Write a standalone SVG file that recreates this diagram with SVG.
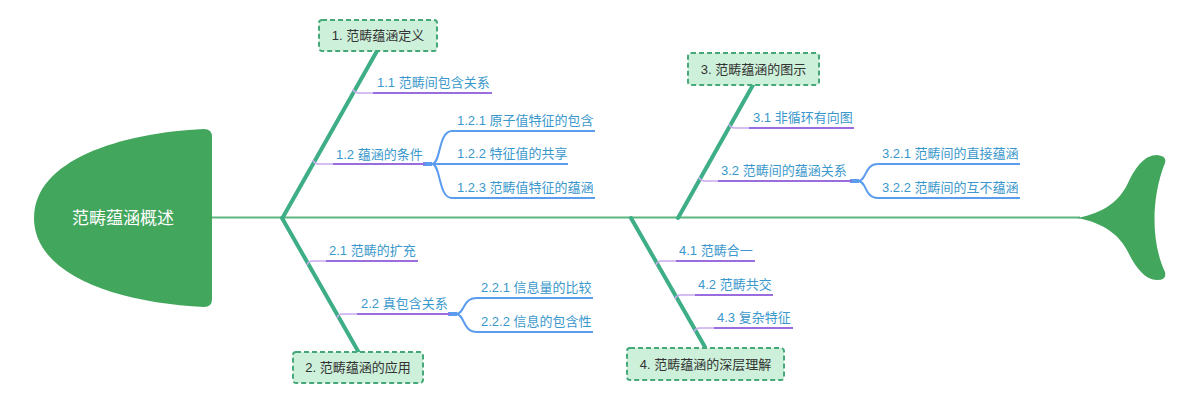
<svg xmlns="http://www.w3.org/2000/svg" width="1200" height="403" viewBox="0 0 1200 403">
<style>
text{font-family:"Liberation Sans","Noto Sans CJK SC",sans-serif}
.spine{stroke:#3dae86;stroke-width:4;fill:none;stroke-linecap:round}
.main{stroke:#5cb67e;stroke-width:2;fill:none}
.box{fill:#cdf0da;stroke:#45a878;stroke-width:2;stroke-dasharray:5 3}
.bt{font-size:13px;fill:#333;text-anchor:middle}
.lt{font-size:13px;fill:#3a98cc}
.ln{stroke:#c8aaee;stroke-width:1.5;fill:none}
.ul{stroke:#9a6ddf;stroke-width:2;fill:none}
.cb{stroke:#5b9cef;stroke-width:2;fill:none}
.fish{fill:#43a65d}
</style>
<rect width="1200" height="403" fill="#fff"/>
<g id="connectors">
<path class="main" d="M212,217.5 L1080,217.5"/>
<path class="spine" d="M283,217 L377,51"/>
<path class="spine" d="M282,218 L358,351"/>
<path class="spine" d="M678,218 L753,85"/>
<path class="spine" d="M631,218 L705,347"/>
<path class="ln" d="M353,89 Q354,93 359,93 L373,93"/>
<path class="ln" d="M313,160 Q314,164 319,164 L333,164"/>
<path class="ln" d="M307,265 Q308,261 313,261 L326,261"/>
<path class="ln" d="M337,318 Q338,314 343,314 L357,314"/>
<path class="ln" d="M729,124 Q730,128 735,128 L749,128"/>
<path class="ln" d="M699,177 Q700,181 705,181 L718,181"/>
<path class="ln" d="M656,265 Q657,261 662,261 L676,261"/>
<path class="ln" d="M675,299 Q676,295 681,295 L695,295"/>
<path class="ln" d="M694,332 Q695,328 700,328 L714,328"/>
<path class="cb" d="M425,164 L432,164 C441,164 438,131 452,131 L595,131"/>
<path class="cb" d="M432,164 L568,164"/>
<path class="cb" d="M425,164 L432,164 C441,164 438,198 452,198 L595,198"/>
<rect x="423" y="162" width="9" height="4" fill="#5b9cef"/>
<path class="cb" d="M450,314 L456,314 C465,314 462,298 477,298 L593,298"/>
<path class="cb" d="M450,314 L456,314 C465,314 462,332 477,332 L593,332"/>
<rect x="448" y="312" width="9" height="4" fill="#5b9cef"/>
<path class="cb" d="M852,181 L858,181 C867,181 864,164 878,164 L1020,164"/>
<path class="cb" d="M852,181 L858,181 C867,181 864,198 878,198 L1020,198"/>
<rect x="850" y="179" width="9" height="4" fill="#5b9cef"/>
</g>
<g id="head">
<path class="fish" d="M204,129 Q212,129 212,137 L212,299 Q212,307 204,307 C120,303 34,276 34,218 C34,160 120,133 204,129 Z"/>
<text x="123" y="224" font-size="17" fill="#fff" text-anchor="middle">范畴蕴涵概述</text>
</g>
<g id="tail">
<path class="fish" d="M1077,218 C1105,213 1120,200 1128,183 C1136,166 1145,155 1157,155 Q1167,156 1165,163 C1152,195 1150,240 1165,272 Q1167,280 1157,280 C1145,280 1136,268 1128,252 C1120,236 1105,223 1077,218 Z"/>
</g>
<g id="topic1">
<rect class="box" x="319" y="20" width="118" height="31" rx="3"/>
<text class="bt" x="378" y="40">1. 范畴蕴涵定义</text>
</g>
<g id="topic2">
<rect class="box" x="293" y="352" width="130" height="31" rx="3"/>
<text class="bt" x="358" y="372">2. 范畴蕴涵的应用</text>
</g>
<g id="topic3">
<rect class="box" x="688" y="53" width="131" height="32" rx="3"/>
<text class="bt" x="753.5" y="73.5">3. 范畴蕴涵的图示</text>
</g>
<g id="topic4">
<rect class="box" x="627" y="348" width="157" height="32" rx="3"/>
<text class="bt" x="705.5" y="368.5">4. 范畴蕴涵的深层理解</text>
</g>
<g id="n1-1"><path class="ul" d="M373,93 L492,93"/><text class="lt" x="377" y="87">1.1 范畴间包含关系</text></g>
<g id="n1-2"><path class="ul" d="M333,164 L425,164"/><text class="lt" x="336" y="158.5">1.2 蕴涵的条件</text></g>
<g id="n1-2-1"><text class="lt" x="457" y="125">1.2.1 原子值特征的包含</text></g>
<g id="n1-2-2"><text class="lt" x="457" y="158">1.2.2 特征值的共享</text></g>
<g id="n1-2-3"><text class="lt" x="457" y="192">1.2.3 范畴值特征的蕴涵</text></g>
<g id="n2-1"><path class="ul" d="M326,261 L418,261"/><text class="lt" x="329" y="255">2.1 范畴的扩充</text></g>
<g id="n2-2"><path class="ul" d="M357,314 L450,314"/><text class="lt" x="361" y="308">2.2 真包含关系</text></g>
<g id="n2-2-1"><text class="lt" x="481" y="292">2.2.1 信息量的比较</text></g>
<g id="n2-2-2"><text class="lt" x="481" y="326">2.2.2 信息的包含性</text></g>
<g id="n3-1"><path class="ul" d="M749,128 L854,128"/><text class="lt" x="753" y="122">3.1 非循环有向图</text></g>
<g id="n3-2"><path class="ul" d="M718,181 L852,181"/><text class="lt" x="721" y="175">3.2 范畴间的蕴涵关系</text></g>
<g id="n3-2-1"><text class="lt" x="882" y="158">3.2.1 范畴间的直接蕴涵</text></g>
<g id="n3-2-2"><text class="lt" x="882" y="192">3.2.2 范畴间的互不蕴涵</text></g>
<g id="n4-1"><path class="ul" d="M676,261 L755,261"/><text class="lt" x="679" y="255">4.1 范畴合一</text></g>
<g id="n4-2"><path class="ul" d="M695,295 L773,295"/><text class="lt" x="698" y="289">4.2 范畴共交</text></g>
<g id="n4-3"><path class="ul" d="M714,328 L793,328"/><text class="lt" x="717" y="322">4.3 复杂特征</text></g>
</svg>
